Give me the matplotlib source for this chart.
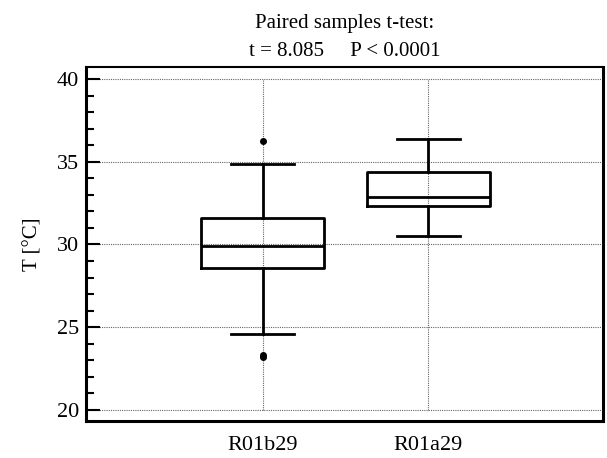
import matplotlib
matplotlib.use("Agg")
import matplotlib.pyplot as plt
from matplotlib.ticker import MultipleLocator

categories = ["R01b29", "R01a29"]
whisker_low = [24.58, 30.50]
q1 = [28.59, 32.30]
median = [29.92, 32.90]
q3 = [31.61, 34.39]
whisker_high = [34.89, 36.40]
outliers = [[36.27, 23.35, 23.20], []]
title_text = "Paired samples t-test:\nt = 8.085     P < 0.0001"
ylabel = "T [°C]"
yticks = [20, 25, 30, 35, 40]

plt.rcParams['font.family'] = ['Liberation Serif', 'DejaVu Serif']

fig = plt.figure(figsize=(6.07, 4.58), dpi=100)
ax = fig.add_axes([86/607, 37/458, (603-86)/607, (421-67)/458])

stats = []
for i, c in enumerate(categories):
    stats.append(dict(label=c, whislo=whisker_low[i], q1=q1[i], med=median[i],
                      q3=q3[i], whishi=whisker_high[i], fliers=outliers[i]))
positions = list(range(1, len(categories) + 1))
ax.bxp(stats, positions=positions, widths=0.745, showfliers=True,
       boxprops=dict(color='black', linewidth=2),
       medianprops=dict(color='black', linewidth=2),
       whiskerprops=dict(color='black', linewidth=2),
       capprops=dict(color='black', linewidth=2),
       capwidths=0.38,
       flierprops=dict(marker='o', markerfacecolor='black', markeredgecolor='black',
                       markersize=4, linestyle='none'))

ax.set_xlim(-0.067, 3.055)
ax.set_ylim(19.335, 40.725)

# grid
for y in yticks:
    ax.axhline(y, color='#666666', linestyle=(0, (1, 1)), linewidth=0.8, zorder=0)
for p in positions:
    ax.plot([p, p], [yticks[0], yticks[-1]], color='#666666', linestyle=(0, (1, 1)),
            linewidth=0.8, zorder=0)

ax.set_yticks(yticks)
ax.yaxis.set_minor_locator(MultipleLocator(1))
ax.tick_params(axis='y', which='major', direction='in', length=10, width=1.5,
               labelsize=16, pad=5)
ax.tick_params(axis='y', which='minor', direction='in', length=6, width=1.5)
ax.set_xticks(positions)
ax.set_xticklabels(categories)
ax.tick_params(axis='x', which='both', length=0, labelsize=16, pad=11)

for s in ['left', 'bottom', 'right']:
    ax.spines[s].set_linewidth(2.2)
ax.spines['top'].set_linewidth(1.5)

ax.set_ylabel(ylabel, fontsize=15, labelpad=10)
ax.set_title(title_text, fontsize=15, pad=8, linespacing=1.65)

fig.savefig("out.png", dpi=100)
